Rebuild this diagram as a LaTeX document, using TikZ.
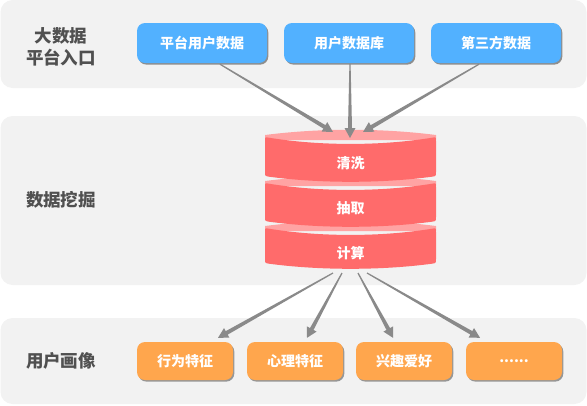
\documentclass[tikz,border=0pt]{standalone}
\usepackage{fontspec}
\setmainfont{Noto Sans CJK SC}
\usetikzlibrary{calc,shadows}
\definecolor{bandgray}{HTML}{F2F2F2}
\definecolor{blueb}{HTML}{52B1FF}
\definecolor{orangeb}{HTML}{FFA64D}
\definecolor{cylred}{HTML}{FF6B6B}
\definecolor{cylpink}{HTML}{FFA3A3}
\definecolor{arrowgray}{HTML}{8A8A8A}
\definecolor{labelgray}{HTML}{505050}
\tikzset{
  band/.style={fill=bandgray, rounded corners=12},
  rowlabel/.style={text=labelgray, align=center, font=\bfseries\fontsize{17.5}{22}\selectfont, inner sep=0},
  boxbase/.style={rounded corners=8, text=white, inner sep=0, font=\bfseries\fontsize{14}{16}\selectfont},
  bluebox/.style={boxbase, fill=blueb, minimum width=130, minimum height=40,
    drop shadow={shadow xshift=1.3pt, shadow yshift=-1.6pt, fill=black!70, opacity=.6}},
  orangebox/.style={boxbase, fill=orangeb, minimum width=96, minimum height=38,
    drop shadow={shadow xshift=1.3pt, shadow yshift=-1.6pt, fill=black!70, opacity=.55}},
  cyltext/.style={text=white, inner sep=0, font=\bfseries\fontsize{14}{16}\selectfont},
}
% tapered arrow from #1 to #2
\newcommand\taperarrow[2]{%
  \coordinate (hb) at ($(#2)!10pt!(#1)$);
  \fill[arrowgray] ($(#1)!0.6pt!90:(#2)$) -- ($(hb)!2pt!90:(#2)$) -- ($(hb)!5.5pt!90:(#2)$) -- (#2)
    -- ($(hb)!5.5pt!-90:(#2)$) -- ($(hb)!2pt!-90:(#2)$) -- ($(#1)!0.6pt!-90:(#2)$) -- cycle;
}
% cylinder segment: #1 side top y, #2 side bottom y
\newcommand\cylseg[2]{%
  \fill[cylpink] (265,#1+3) -- (265,#1-2) .. controls (320,#1-9) and (381,#1-9) .. (436,#1-2) -- (436,#1+3) -- cycle;
  \fill[cylred] (265,#1+4) -- (265,#2-4) .. controls (265,#2) .. (269,#2+0.7)
    .. controls (320,#2+7.5) and (381,#2+7.5) .. (432,#2+0.7)
    .. controls (436,#2) .. (436,#2-4) -- (436,#1+4) .. controls (436,#1) .. (432,#1+0.7)
    .. controls (381,#1+9) and (320,#1+9) .. (269,#1+0.7) .. controls (265,#1) .. cycle;
}
\begin{document}
\begin{tikzpicture}[x=1pt,y=-1pt]
\useasboundingbox (0,0) rectangle (587,405);
% bands
\fill[band] (0.5,0) rectangle (586.5,88);
\fill[band] (0.5,116) rectangle (586.5,285);
\fill[band] (0.5,318) rectangle (586.5,404);
% row labels
\node[rowlabel] (l1) at (61,46.5) {大数据\\平台入口};
\node[rowlabel] (l2) at (61,199.5) {数据挖掘};
\node[rowlabel] (l3) at (61,360.5) {用户画像};
% source boxes
\node[bluebox] (b1) at (202,43) {平台用户数据};
\node[bluebox] (b2) at (349,43) {用户数据库};
\node[bluebox] (b3) at (496,43) {第三方数据};
% cylinder
\cylseg{228}{263}
\cylseg{183}{221}
\cylseg{137}{176}
\node[cyltext] (c1) at (350.5,163) {清洗};
\node[cyltext] (c2) at (350.5,208) {抽取};
\node[cyltext] (c3) at (350.5,253) {计算};
% result boxes
\node[orangebox] (o1) at (185,361) {行为特征};
\node[orangebox] (o2) at (295,361) {心理特征};
\node[orangebox] (o3) at (404,361) {兴趣爱好};
\node[orangebox] (o4) at (514,361) {......};
% arrow ends
\coordinate (s1) at ($(b1.south)+(18,1)$);
\coordinate (s2) at ($(b2.south)+(1,1)$);
\coordinate (s3) at ($(b3.south)+(-17,1)$);
\coordinate (t1) at ($(c1)+(-17.5,-31)$);
\coordinate (t2) at ($(c1)+(-0.5,-25)$);
\coordinate (t3) at ($(c1)+(12.5,-31)$);
\coordinate (u1) at ($(c3)+(-17.5,20)$);
\coordinate (u2) at ($(c3)+(-8.5,20)$);
\coordinate (u3) at ($(c3)+(7.5,20)$);
\coordinate (u4) at ($(c3)+(16.5,20)$);
\coordinate (v1) at ($(o1.north)+(33,-4)$);
\coordinate (v2) at ($(o2.north)+(12,-4)$);
\coordinate (v3) at ($(o3.north)+(-11,-4)$);
\coordinate (v4) at ($(o4.north)+(-34,-4)$);
% arrows
\taperarrow{s1}{t1}
\taperarrow{s2}{t2}
\taperarrow{s3}{t3}
\taperarrow{u1}{v1}
\taperarrow{u2}{v2}
\taperarrow{u3}{v3}
\taperarrow{u4}{v4}
\end{tikzpicture}
\end{document}
